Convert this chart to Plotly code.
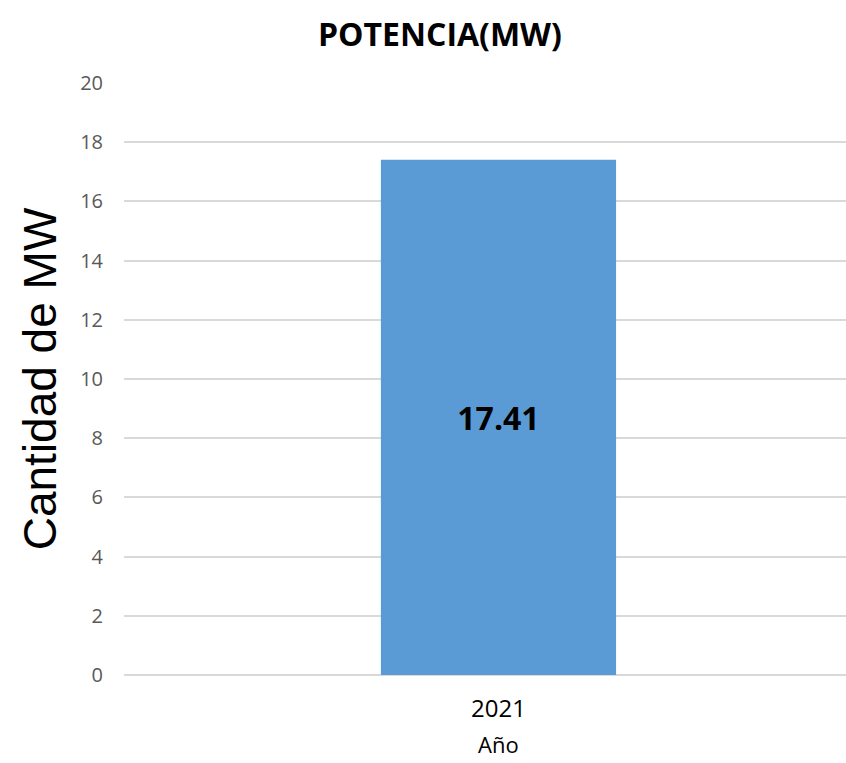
import plotly.graph_objects as go

categories = ["2021"]
values = [17.41]
y_ticks = [0, 2, 4, 6, 8, 10, 12, 14, 16, 18, 20]

fig = go.Figure(go.Bar(
    x=categories,
    y=values,
    width=0.314,
    marker=dict(color="#5b9bd5", line=dict(width=0)),
    text=[f"{v:.2f}" for v in values],
    textposition="inside",
    insidetextanchor="middle",
    textfont=dict(family="Open Sans, sans-serif", size=32, color="black", weight="bold"),
    textangle=0,
))

fig.update_layout(
    width=846, height=763,
    margin=dict(l=124, r=0, t=83, b=88),
    paper_bgcolor="white", plot_bgcolor="white",
    title=dict(text="<b>POTENCIA(MW)</b>", x=0.52, xanchor="center", y=0.954, yanchor="middle",
               font=dict(family="Open Sans, sans-serif", size=32, color="black")),
    showlegend=False,
    xaxis=dict(type="category", range=[-0.5, 0.464], showgrid=False, showline=False, ticks="",
               ticklabelstandoff=17,
               tickfont=dict(family="Open Sans, sans-serif", size=24, color="black")),
    yaxis=dict(range=[0, 20], tickvals=y_ticks, showgrid=True, gridcolor="#d9d9d9", gridwidth=1.5,
               zeroline=True, zerolinecolor="#d9d9d9", zerolinewidth=1.5, showline=False, ticks="",
               ticklabelstandoff=20,
               tickfont=dict(family="Open Sans, sans-serif", size=20, color="#595959"),
               title=dict(text="Cantidad de MW", font=dict(family="Liberation Sans, Arial, sans-serif", size=46, color="black"), standoff=9)),
    annotations=[dict(text="Año", x=0, xref="x", y=-0.117, yref="paper",
                      xanchor="center", yanchor="middle", showarrow=False,
                      font=dict(family="Open Sans, sans-serif", size=22, color="black"))],
)

fig.write_html("out.html", config={"displayModeBar": False},
               post_script="document.body.style.margin='0';document.body.style.padding='0';")
